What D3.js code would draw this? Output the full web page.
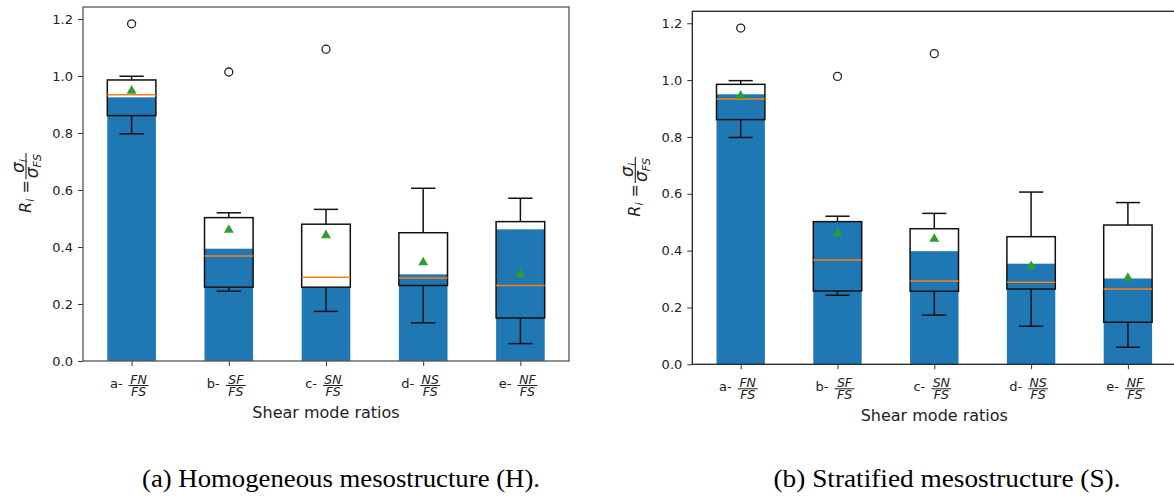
<!DOCTYPE html>
<html>
<head>
<meta charset="utf-8">
<script src="https://cdn.jsdelivr.net/npm/d3@7"></script>
<style>
  body { margin: 0; background: #fff; }
  svg { display: block; }
  text { font-family: "DejaVu Sans", sans-serif; fill: #222; }
  text.caption { font-family: "Liberation Serif", "Times New Roman", serif; fill: #000; }
</style>
</head>
<body>
<script>
// categories and tick label parts
const categories = ["a", "b", "c", "d", "e"];
const numerators = ["FN", "SF", "SN", "NS", "NF"];
const denominators = ["FS", "FS", "FS", "FS", "FS"];
const yTicks = [0, 0.2, 0.4, 0.6, 0.8, 1.0, 1.2];

// (a) Homogeneous mesostructure
const hBar = [0.925, 0.394, 0.258, 0.304, 0.462];
const hWhiskLow = [0.797, 0.245, 0.174, 0.134, 0.061];
const hQ1 = [0.861, 0.259, 0.259, 0.265, 0.151];
const hMedian = [0.934, 0.368, 0.294, 0.291, 0.265];
const hQ3 = [0.986, 0.503, 0.480, 0.450, 0.489];
const hWhiskHigh = [0.999, 0.520, 0.532, 0.606, 0.571];
const hMean = [0.948, 0.460, 0.441, 0.346, 0.304];
const hOutliers = [[1.183], [1.014], [1.094], [], []];

// (b) Stratified mesostructure
const sBar = [0.950, 0.502, 0.398, 0.354, 0.302];
const sWhiskLow = [0.798, 0.243, 0.173, 0.134, 0.060];
const sQ1 = [0.861, 0.258, 0.257, 0.265, 0.148];
const sMedian = [0.933, 0.367, 0.293, 0.289, 0.265];
const sQ3 = [0.985, 0.502, 0.477, 0.449, 0.490];
const sWhiskHigh = [0.998, 0.521, 0.531, 0.606, 0.569];
const sMean = [0.945, 0.460, 0.441, 0.345, 0.304];
const sOutliers = [[1.183], [1.013], [1.093], [], []];

const W = 1174, H = 497;
const svg = d3.select("body").append("svg").attr("width", W).attr("height", H);

function buildRows(bar, lo, q1, med, q3, hi, mean, out) {
  return categories.map((c, i) => ({
    pos: i + 1, bar: bar[i], lo: lo[i], q1: q1[i], med: med[i],
    q3: q3[i], hi: hi[i], mean: mean[i], out: out[i]
  }));
}

function drawPanel(opts) {
  const { left, right, top, bottom, rows, spine, caption, capX, capW } = opts;
  const x = d3.scaleLinear().domain([0.5, 5.5]).range([left, right]);
  const y = d3.scaleLinear().domain([0, 1.242]).range([bottom, top]);
  const g = svg.append("g");
  const half = 0.25, cap = 0.125;

  // bars
  g.selectAll("rect.bar").data(rows).enter().append("rect")
    .attr("class", "bar")
    .attr("x", d => x(d.pos - half))
    .attr("width", d => x(d.pos + half) - x(d.pos - half))
    .attr("y", d => y(d.bar))
    .attr("height", d => y(0) - y(d.bar))
    .attr("fill", "#1f77b4");

  const box = g.selectAll("g.box").data(rows).enter().append("g").attr("class", "box");
  // whiskers
  box.append("line").attr("x1", d => x(d.pos)).attr("x2", d => x(d.pos))
    .attr("y1", d => y(d.q3)).attr("y2", d => y(d.hi));
  box.append("line").attr("x1", d => x(d.pos)).attr("x2", d => x(d.pos))
    .attr("y1", d => y(d.q1)).attr("y2", d => y(d.lo));
  // caps
  box.append("line").attr("x1", d => x(d.pos - cap)).attr("x2", d => x(d.pos + cap))
    .attr("y1", d => y(d.hi)).attr("y2", d => y(d.hi));
  box.append("line").attr("x1", d => x(d.pos - cap)).attr("x2", d => x(d.pos + cap))
    .attr("y1", d => y(d.lo)).attr("y2", d => y(d.lo));
  box.selectAll("line").attr("stroke", "#111").attr("stroke-width", 1.5);
  // box body
  box.append("rect")
    .attr("x", d => x(d.pos - half))
    .attr("width", d => x(d.pos + half) - x(d.pos - half))
    .attr("y", d => y(d.q3))
    .attr("height", d => y(d.q1) - y(d.q3))
    .attr("fill", "none").attr("stroke", "#111").attr("stroke-width", 1.5);
  // median
  box.append("line").attr("x1", d => x(d.pos - half)).attr("x2", d => x(d.pos + half))
    .attr("y1", d => y(d.med)).attr("y2", d => y(d.med))
    .attr("stroke", "#ff7f0e").attr("stroke-width", 1.5);
  // mean
  box.append("path")
    .attr("d", d3.symbol(d3.symbolTriangle, 42))
    .attr("transform", d => `translate(${x(d.pos)},${y(d.mean)})`)
    .attr("fill", "#2ca02c");
  // outliers
  box.selectAll("circle").data(d => d.out.map(v => ({ pos: d.pos, v }))).enter()
    .append("circle")
    .attr("cx", d => x(d.pos)).attr("cy", d => y(d.v)).attr("r", 4)
    .attr("fill", "none").attr("stroke", "#222").attr("stroke-width", 1.3);

  // y axis
  const ya = g.append("g").attr("transform", `translate(${left},0)`)
    .call(d3.axisLeft(y).tickValues(yTicks).tickFormat(d3.format(".1f"))
      .tickSize(5).tickPadding(5));
  ya.select(".domain").remove();
  ya.selectAll("line").attr("stroke", "#333");
  ya.selectAll("text").style("font-size", "13px").attr("fill", "#222");

  // x axis ticks with fraction labels
  const xa = g.append("g").attr("transform", `translate(0,${bottom})`)
    .call(d3.axisBottom(x).tickValues(rows.map(d => d.pos)).tickFormat("").tickSize(5));
  xa.select(".domain").remove();
  xa.selectAll("line").attr("stroke", "#333");

  rows.forEach((d, i) => {
    const lg = g.append("g").attr("transform", `translate(${x(d.pos)},${bottom})`);
    lg.append("text").attr("x", -9).attr("y", 27).attr("text-anchor", "end")
      .style("font-size", "13px").text(categories[i] + "-");
    lg.append("text").attr("x", 7).attr("y", 23).attr("text-anchor", "middle")
      .style("font-size", "12.5px").style("font-style", "italic").text(numerators[i]);
    lg.append("line").attr("x1", -3).attr("x2", 17).attr("y1", 24.5).attr("y2", 24.5)
      .attr("stroke", "#222").attr("stroke-width", 1);
    lg.append("text").attr("x", 7).attr("y", 35).attr("text-anchor", "middle")
      .style("font-size", "12.5px").style("font-style", "italic").text(denominators[i]);
  });

  // frame
  g.append("rect").attr("x", left).attr("y", top)
    .attr("width", right - left).attr("height", bottom - top)
    .attr("fill", "none").attr("stroke", spine).attr("stroke-width", 1.3);

  // x label
  g.append("text").attr("x", (left + right) / 2).attr("y", bottom + 57)
    .attr("text-anchor", "middle").style("font-size", "16px").text("Shear mode ratios");

  // y label: R_i = sigma_i / sigma_FS
  const yl = g.append("g")
    .attr("transform", `translate(${left - 52},${(top + bottom) / 2 - 1}) rotate(-90)`);
  const main = yl.append("text").style("font-size", "16px");
  main.append("tspan").style("font-style", "italic").text("R");
  main.append("tspan").style("font-style", "italic").style("font-size", "11px")
    .attr("dy", 3).text("i");
  main.append("tspan").attr("dy", -3).text(" = ");
  const mainLen = main.node().getComputedTextLength();
  const fx = mainLen + 1;
  const num = yl.append("text").style("font-size", "17px");
  num.append("tspan").style("font-style", "italic").text("σ");
  num.append("tspan").style("font-style", "italic").style("font-size", "11px")
    .attr("dy", 3).text("i");
  const den = yl.append("text").style("font-size", "17px");
  den.append("tspan").style("font-style", "italic").text("σ");
  den.append("tspan").style("font-style", "italic").style("font-size", "11px")
    .attr("dy", 3).text("FS");
  const nl = num.node().getComputedTextLength();
  const dl = den.node().getComputedTextLength();
  const fw = Math.max(nl, dl) + 2;
  const total = fx + fw;
  main.attr("x", -total / 2);
  num.attr("x", fx + (fw - nl) / 2 - total / 2).attr("y", -7.5);
  den.attr("x", fx + (fw - dl) / 2 - total / 2).attr("y", 6.5);
  yl.append("line").attr("x1", fx - total / 2).attr("x2", fx + fw - total / 2)
    .attr("y1", -5).attr("y2", -5)
    .attr("stroke", "#222").attr("stroke-width", 1.1);

  // caption
  svg.append("text").attr("class", "caption")
    .attr("x", capX).attr("y", 487).attr("text-anchor", "middle")
    .style("font-size", "25px")
    .attr("textLength", capW).attr("lengthAdjust", "spacingAndGlyphs")
    .text(caption);
}

drawPanel({
  left: 83, right: 569, top: 7, bottom: 361,
  rows: buildRows(hBar, hWhiskLow, hQ1, hMedian, hQ3, hWhiskHigh, hMean, hOutliers),
  spine: "#555", caption: "(a) Homogeneous mesostructure (H).", capX: 341, capW: 398
});
drawPanel({
  left: 692.3, right: 1176.3, top: 11.3, bottom: 364.3,
  rows: buildRows(sBar, sWhiskLow, sQ1, sMedian, sQ3, sWhiskHigh, sMean, sOutliers),
  spine: "#222", caption: "(b) Stratified mesostructure (S).", capX: 947, capW: 347
});
</script>
</body>
</html>
